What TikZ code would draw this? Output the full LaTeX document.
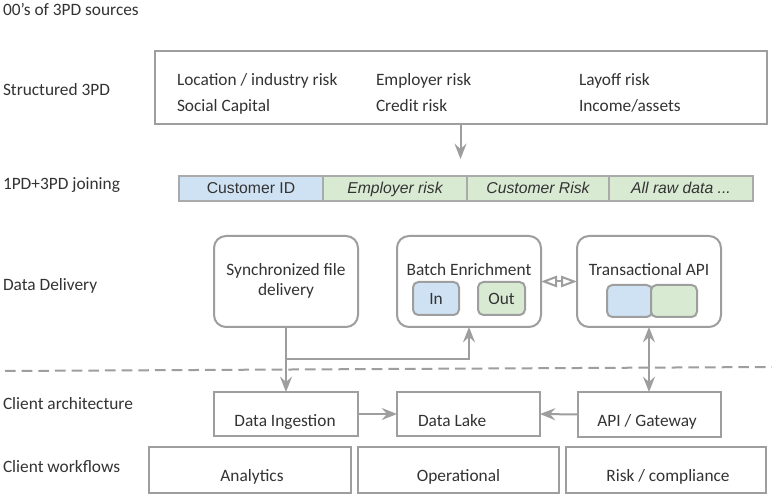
\documentclass[tikz,border=0pt]{standalone}
\usepackage{fontspec}
\setmainfont{Carlito}
\newfontfamily\arialf{Liberation Sans}
\usetikzlibrary{arrows.meta}
\definecolor{lg}{HTML}{9E9E9E}
\definecolor{bg}{HTML}{AAAAAA}
\definecolor{txt}{HTML}{333333}
\definecolor{lblue}{HTML}{CFE2F3}
\definecolor{lgreen}{HTML}{D9EAD3}
\tikzset{
  every node/.style={text=txt, font=\fontsize{13}{15}\selectfont, inner sep=0pt, outer sep=0pt},
  plainbox/.style={draw=lg, line width=1.5pt, rectangle},
  roundbox/.style={draw=lg, line width=1.5pt, rectangle, rounded corners=9pt, minimum width=108pt, minimum height=68.25pt},
  minibox/.style={draw=lg, line width=1.5pt, rectangle, rounded corners=4pt},
  cell/.style={draw=bg, line width=1.5pt, rectangle, minimum height=18.75pt, font=\arialf\fontsize{11.8}{13}\selectfont},
  lbl/.style={anchor=base west},
  tip/.tip={Stealth[length=11.5pt,width=9pt,inset=4pt]},
  arr/.style={draw=lg, line width=1.5pt, -tip},
  darr/.style={draw=lg, line width=1.5pt, tip-tip},
  diarr/.style={draw=lg, line width=1.5pt, {Triangle[open,length=12pt,width=8.5pt]}-{Triangle[open,length=12pt,width=8.5pt]}},
}
\begin{document}
\begin{tikzpicture}[x=0.75pt,y=-0.75pt]
\useasboundingbox[fill=white] (0,0) rectangle (772,498);

% left labels
\node[lbl] (l0) at (3,16) {00’s of 3PD sources};
\node[lbl] (l1) at (3,96) {Structured 3PD};
\node[lbl] (l2) at (3,190) {1PD+3PD joining};
\node[lbl] (l3) at (3,291) {Data Delivery};
\node[lbl] (l4) at (3,410) {Client architecture};
\node[lbl] (l5) at (3,473) {Client workflows};

% structured 3PD box
\node[plainbox, minimum width=459pt, minimum height=54.75pt] (src) at (460.5,87.5) {};
\node[lbl] (s1) at (177,86) {Location / industry risk};
\node[lbl] (s2) at (177,112) {Social Capital};
\node[lbl] (s3) at (376,86) {Employer risk};
\node[lbl] (s4) at (376,112) {Credit risk};
\node[lbl] (s5) at (579,86) {Layoff risk};
\node[lbl] (s6) at (579,112) {Income/assets};
\coordinate (srcend) at (460.5,159);
\draw[arr] (src.south) -- (srcend);

% joining bar
\node[cell, fill=lblue, minimum width=108pt] (cid) at (251,188.5) {};
\node[cell, fill=lgreen, minimum width=108pt] (emp) at (395,188.5) {};
\node[cell, fill=lgreen, minimum width=106.5pt] (crisk) at (538,188.5) {};
\node[cell, fill=lgreen, minimum width=108pt] (raw) at (681,188.5) {};
\node[anchor=base, font=\arialf\fontsize{11.8}{13}\selectfont] (tcid) at (251,194) {Customer ID};
\node[anchor=base, font=\arialf\itshape\fontsize{11.8}{13}\selectfont] (temp) at (395,194) {Employer risk};
\node[anchor=base, font=\arialf\itshape\fontsize{11.8}{13}\selectfont] (tcrisk) at (538,194) {Customer Risk};
\node[anchor=base, font=\arialf\itshape\fontsize{11.8}{13}\selectfont] (traw) at (681,194) {All raw data ...};

% data delivery
\node[roundbox] (sync) at (286,281.5) {};
\node[align=center] (tsync) at (286,281) {Synchronized file\\delivery};
\node[roundbox] (batch) at (469,281.5) {};
\node[anchor=base] (tbatch) at (469,276) {Batch Enrichment};
\node[minibox, fill=lblue, minimum width=34.5pt, minimum height=24.75pt] (in) at (436,298.5) {In};
\node[minibox, fill=lgreen, minimum width=35.25pt, minimum height=24.75pt] (out) at (501.5,298.5) {Out};
\node[roundbox] (trans) at (649,281.5) {};
\node[anchor=base] (ttrans) at (649,276) {Transactional API};
\node[minibox, fill=lblue, minimum width=33.75pt, minimum height=24pt] (tb) at (629.5,301) {};
\node[minibox, fill=lgreen, minimum width=34.5pt, minimum height=24pt] (tg) at (674,301) {};

\draw[diarr] (batch.east) -- (trans.west);

% dashed separator
\coordinate (dl) at (5,371);
\coordinate (dr) at (772,367);
\draw[draw=lg, line width=1.5pt, dash pattern=on 8pt off 4.5pt] (dl) -- (dr);

% client architecture
\node[plainbox, minimum width=108pt, minimum height=33pt] (ingest) at (286,414) {};
\node[anchor=base] (tingest) at (285,427) {Data Ingestion};
\node[plainbox, minimum width=107.25pt, minimum height=33pt] (lake) at (468.5,414) {};
\node[anchor=base west] (tlake) at (418,427) {Data Lake};
\node[plainbox, minimum width=107.25pt, minimum height=33.75pt] (api) at (649.5,414.5) {};
\node[anchor=base] (tapi) at (647,427) {API / Gateway};

% connectors
\draw[arr] (sync.south) -- (ingest.north);
\coordinate (br) at (286,359);
\draw[arr] (br) -| (batch.south);
\draw[darr] (trans.south) -- (trans.south |- api.north);
\draw[arr] (ingest.east) -- (lake.west);
\draw[arr] (api.west) -- (lake.east);

% client workflows
\node[plainbox, minimum width=151.5pt, minimum height=34.5pt] (wa) at (250,470) {};
\node[anchor=base] (twa) at (252,482) {Analytics};
\node[plainbox, minimum width=150.75pt, minimum height=34.5pt] (wo) at (458.5,470) {};
\node[anchor=base] (two) at (458.5,482) {Operational};
\node[plainbox, minimum width=150pt, minimum height=34.5pt] (wr) at (666,470) {};
\node[anchor=base] (twr) at (668,482) {Risk / compliance};
\end{tikzpicture}
\end{document}
